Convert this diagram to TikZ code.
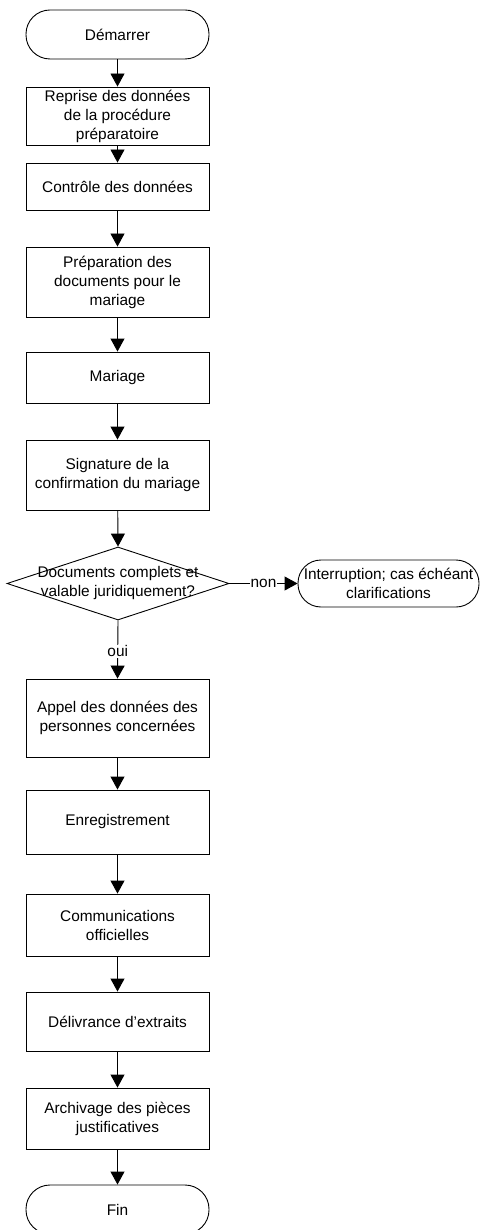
\documentclass[tikz,border=0pt]{standalone}
\usepackage{fontspec}
\setmainfont{Liberation Sans}
\usetikzlibrary{arrows.meta,shapes.geometric}
\newcommand\figfont{\fontsize{15.4pt}{19pt}\selectfont}
\begin{document}
\begin{tikzpicture}[x=1pt,y=-1pt,
  box/.style={draw=black, line width=0.9pt, minimum width=183pt, inner sep=0pt, align=center, font=\figfont},
  term/.style={box, rounded corners=24pt},
  arr/.style={draw=black, line width=0.9pt, -{Triangle[length=13pt,width=14pt]}},
  lbl/.style={fill=white, inner sep=1pt, font=\figfont}]
\useasboundingbox (0,0) rectangle (479,1230);
\node[term, minimum height=49pt] (start) at (117.5,34.5) {Démarrer};
\node[box, minimum height=58pt] (b1) at (117.5,116) {Reprise des données\\de la procédure\\préparatoire};
\node[box, minimum height=47pt] (b2) at (117.5,186.5) {Contrôle des données};
\node[box, minimum height=70pt] (b3) at (117.5,282) {Préparation des\\documents pour le\\mariage};
\node[box, minimum height=51pt] (b4) at (117.5,377.5) {Mariage};
\node[box, minimum height=70pt] (b5) at (117.5,475) {Signature de la\\confirmation du mariage};
\node[draw=black, line width=0.9pt, diamond, minimum width=222pt, minimum height=73pt, inner sep=0pt] (dec) at (118,583.5) {};
\node[align=center, font=\figfont, inner sep=0pt] (dectext) at (dec.center) {Documents complets et\\valable juridiquement?};
\node[term, minimum width=181pt, minimum height=47pt, rounded corners=23pt] (stop) at (388.5,583.5) {Interruption; cas échéant\\clarifications};
\node[box, minimum height=78pt] (b6) at (117.5,718) {Appel des données des\\personnes concernées};
\node[box, minimum height=64pt] (b7) at (117.5,822) {Enregistrement};
\node[box, minimum height=62pt] (b8) at (117.5,925) {Communications\\officielles};
\node[box, minimum height=59pt] (b9) at (117.5,1021.5) {Délivrance d’extraits};
\node[box, minimum height=61pt] (b10) at (117.5,1118.5) {Archivage des pièces\\justificatives};
\node[term, minimum height=49pt] (fin) at (117.5,1209.5) {Fin};
\draw[arr] (start) -- (b1);
\draw[arr] (b1) -- (b2);
\draw[arr] (b2) -- (b3);
\draw[arr] (b3) -- (b4);
\draw[arr] (b4) -- (b5);
\draw[arr] (b5) -- (dec.north);
\draw[arr] (dec.east) -- node[lbl] (non) {non} (stop.west);
\draw[arr] (dec.south) -- node[lbl, pos=0.53] (oui) {oui} (b6.north);
\draw[arr] (b6) -- (b7);
\draw[arr] (b7) -- (b8);
\draw[arr] (b8) -- (b9);
\draw[arr] (b9) -- (b10);
\draw[arr] (b10) -- (fin);
\end{tikzpicture}
\end{document}
